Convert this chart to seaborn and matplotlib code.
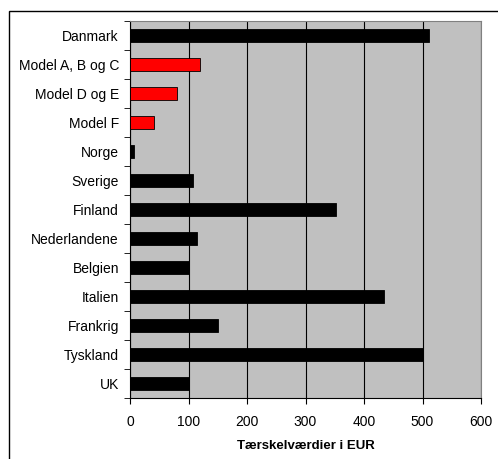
import matplotlib
matplotlib.use("Agg")
import matplotlib.pyplot as plt
import seaborn as sns
import pandas as pd
from matplotlib.patches import Rectangle
from matplotlib.ticker import FixedLocator

categories = ["Danmark", "Model A, B og C", "Model D og E", "Model F", "Norge",
              "Sverige", "Finland", "Nederlandene", "Belgien", "Italien",
              "Frankrig", "Tyskland", "UK"]
values = [511, 120, 80, 41, 6, 108, 352, 114, 100, 434, 150, 500, 100]
bar_colors = ["black", "red", "red", "red", "black", "black", "black",
              "black", "black", "black", "black", "black", "black"]
x_ticks = [0, 100, 200, 300, 400, 500, 600]

sns.set_style("white")
plt.rcParams["font.family"] = ["Liberation Sans", "DejaVu Sans"]
plt.rcParams["text.color"] = "black"
plt.rcParams["xtick.color"] = "black"
plt.rcParams["ytick.color"] = "black"
plt.rcParams["axes.labelcolor"] = "black"

df = pd.DataFrame({"land": categories, "eur": values})

fig = plt.figure(figsize=(4.98, 4.59), dpi=100)
# outer chart frame
fig.patches.append(Rectangle((9 / 498, -0.05), 1.1, (459 - 11) / 459 + 0.05,
                             transform=fig.transFigure, fill=False,
                             edgecolor="black", linewidth=1.0))
ax = fig.add_axes([130 / 498, 1 - 398 / 459, (481 - 130) / 498, (398 - 21) / 459])
ax.set_facecolor("#C0C0C0")

sns.barplot(data=df, x="eur", y="land", hue="land", palette=bar_colors,
            order=categories, hue_order=categories, legend=False, saturation=1,
            width=0.42, edgecolor="black", linewidth=0.6, ax=ax, zorder=3)

ax.set_xlim(0, 600)
ax.set_ylim(len(categories) - 0.5, -0.5)
ax.set_xticks(x_ticks)
ax.set_xticklabels([str(t) for t in x_ticks], fontsize=10)
ax.set_yticks(range(len(categories)))
ax.set_yticklabels(categories, fontsize=10)
ax.yaxis.set_minor_locator(FixedLocator([i - 0.5 for i in range(len(categories) + 1)]))
ax.tick_params(axis="y", which="major", length=0, pad=8)
ax.tick_params(axis="y", which="minor", length=4, direction="out", color="black", left=True)
ax.tick_params(axis="x", which="major", length=4, direction="out", color="black",
               bottom=True, pad=8)

ax.xaxis.grid(True, color="black", linewidth=0.8)
ax.yaxis.grid(False)
ax.set_axisbelow(True)

for side in ["top", "right"]:
    ax.spines[side].set_color("#808080")
    ax.spines[side].set_linewidth(0.8)
for side in ["left", "bottom"]:
    ax.spines[side].set_color("black")
    ax.spines[side].set_linewidth(0.8)

ax.set_ylabel("")
ax.set_xlabel("Tærskelværdier i EUR", fontsize=9.5, fontweight="bold", labelpad=8)

fig.savefig("out.png", dpi=100)
